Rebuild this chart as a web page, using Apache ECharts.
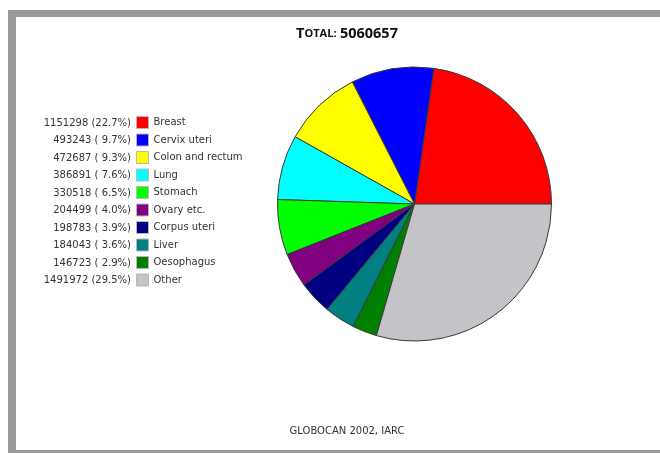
<!DOCTYPE html>
<html>
<head>
<meta charset="utf-8">
<script src="https://cdn.jsdelivr.net/npm/echarts@6/dist/echarts.min.js"></script>
<style>
  html, body { margin: 0; padding: 0; background: #ffffff; }
  #chart { width: 660px; height: 453px; }
</style>
</head>
<body>
<div id="chart"></div>
<script>
// Cancer sites (female), GLOBOCAN 2002
const sites = ['Breast', 'Cervix uteri', 'Colon and rectum', 'Lung', 'Stomach',
  'Ovary etc.', 'Corpus uteri', 'Liver', 'Oesophagus', 'Other'];
const cases = [1151298, 493243, 472687, 386891, 330518, 204499, 198783, 184043, 146723, 1491972];
const siteColors = ['#ff0000', '#0000ff', '#ffff00', '#00ffff', '#00ff00',
  '#800080', '#000080', '#008080', '#008000', '#c4c3c8'];

const total = cases.reduce((a, b) => a + b, 0);
const pctText = v => {
  const p = (v / total * 100).toFixed(1);
  return p.length < 4 ? ' ' + p : p;
};
const valueLabel = {};
sites.forEach((s, i) => { valueLabel[s] = cases[i] + ' (' + pctText(cases[i]) + '%)'; });

const chart = echarts.init(document.getElementById('chart'), null, { renderer: 'canvas' });

const legendText = { fontFamily: 'DejaVu Sans', fontSize: 10, lineHeight: 12, color: '#333333' };
const legendCommon = {
  orient: 'vertical',
  padding: 0,
  itemHeight: 12,
  selectedMode: false,
  data: sites
};

chart.setOption({
  animation: false,
  backgroundColor: '#ffffff',
  legend: [
    // colour swatch + site name (the swatch border adds 1px to each row)
    Object.assign({}, legendCommon, {
      left: 136,
      top: 116,
      itemGap: 4.5,
      itemWidth: 12,
      icon: 'rect',
      align: 'left',
      itemStyle: { borderColor: '#b8b8b8', borderWidth: 1 },
      textStyle: legendText
    }),
    // case count and share, right-aligned before the swatch
    Object.assign({}, legendCommon, {
      left: 30,
      top: 117,
      itemGap: 5.5,
      itemWidth: 0,
      icon: 'rect',
      align: 'left',
      itemStyle: { opacity: 0, borderWidth: 0 },
      formatter: name => '{v|' + valueLabel[name] + '}',
      textStyle: Object.assign({}, legendText, {
        rich: { v: Object.assign({}, legendText, { width: 96, align: 'right' }) }
      })
    })
  ],
  graphic: [
    { type: 'rect', shape: { x: 8, y: 10, width: 660, height: 7 }, style: { fill: '#999999' }, silent: true },
    { type: 'rect', shape: { x: 8, y: 10, width: 8, height: 450 }, style: { fill: '#999999' }, silent: true },
    { type: 'rect', shape: { x: 8, y: 450, width: 660, height: 5 }, style: { fill: '#999999' }, silent: true },
    {
      type: 'text', x: 347, y: 34,
      style: {
        text: '{a|T}{b|OTAL:} {a|' + total + '}',
        align: 'center', verticalAlign: 'middle',
        rich: {
          a: { fontFamily: 'Open Sans', fontWeight: 'bold', fontSize: 14.5, fill: '#111111' },
          b: { fontFamily: 'Open Sans', fontWeight: 'bold', fontSize: 11, fill: '#111111' }
        }
      }
    },
    {
      type: 'text', x: 347, y: 431,
      style: {
        text: 'GLOBOCAN 2002, IARC', align: 'center', verticalAlign: 'middle',
        fontFamily: 'DejaVu Sans', fontSize: 10, fill: '#333333'
      }
    }
  ],
  series: [{
    type: 'pie',
    center: [414.5, 204],
    radius: 137,
    startAngle: 0,
    clockwise: false,
    avoidLabelOverlap: false,
    label: { show: false },
    labelLine: { show: false },
    emphasis: { disabled: true },
    itemStyle: { borderColor: '#3a3a3a', borderWidth: 1 },
    data: sites.map((s, i) => ({ name: s, value: cases[i], itemStyle: { color: siteColors[i] } }))
  }]
});
</script>
</body>
</html>
